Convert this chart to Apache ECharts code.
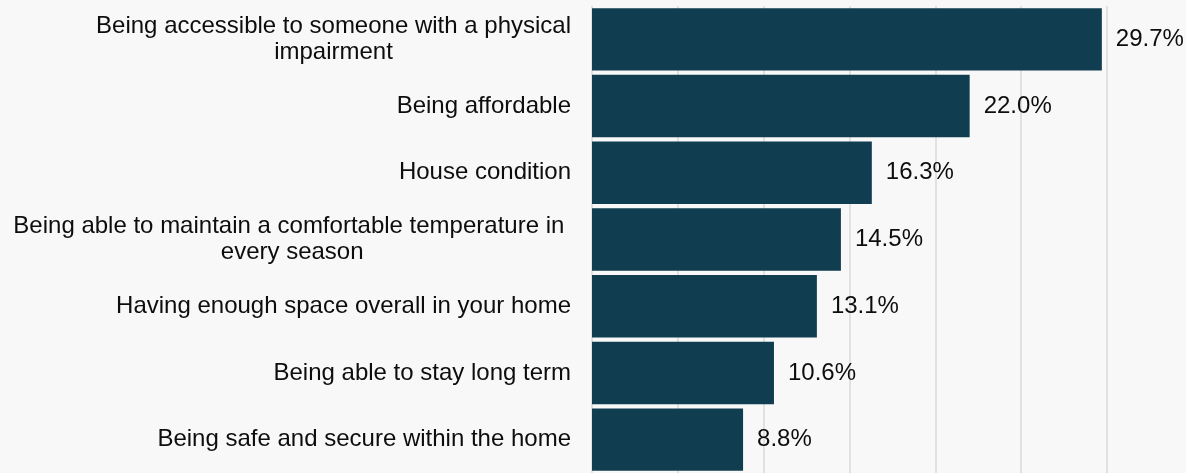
<!DOCTYPE html>
<html>
<head>
<meta charset="utf-8">
<script src="https://cdn.jsdelivr.net/npm/echarts@6/dist/echarts.min.js"></script>
<style>
  html, body { margin: 0; padding: 0; background: #f8f8f8; }
  #chart { width: 1186px; height: 473px; }
</style>
</head>
<body>
<div id="chart"></div>
<script>
// Housing features rated as most important (share of respondents, %)
const categories = [
  'Being accessible to someone with a physical\nimpairment',
  'Being affordable',
  'House condition',
  'Being able to maintain a comfortable temperature in \nevery season',
  'Having enough space overall in your home',
  'Being able to stay long term',
  'Being safe and secure within the home'
];
const shares = [29.7, 22.0, 16.3, 14.5, 13.1, 10.6, 8.8];

const FONT = 'Liberation Sans, Arial, sans-serif';
const chart = echarts.init(document.getElementById('chart'), null, { renderer: 'canvas' });

chart.setOption({
  backgroundColor: '#f8f8f8',
  animation: false,
  grid: { left: 592, right: 79, top: 6, bottom: -4, containLabel: false },
  xAxis: {
    type: 'value',
    min: 0,
    max: 30,
    interval: 5,
    axisLabel: { show: false },
    axisLine: { show: false },
    axisTick: { show: false },
    splitLine: { show: true, lineStyle: { color: '#dadada', width: 1.5 } }
  },
  yAxis: {
    type: 'category',
    inverse: true,
    data: categories,
    axisLine: { show: false },
    axisTick: { show: false },
    axisLabel: {
      margin: 21,
      color: '#0d0d0d',
      fontFamily: FONT,
      fontSize: 24,
      lineHeight: 26,
      align: 'right',
      // each wrapped line is centred within its label block
      formatter: function (value) {
        return value.split('\n').map(function (line) { return '{c|' + line + '}'; }).join('\n');
      },
      rich: {
        c: {
          align: 'center',
          color: '#0d0d0d',
          fontFamily: FONT,
          fontSize: 24,
          lineHeight: 26
        }
      }
    }
  },
  series: [{
    type: 'bar',
    data: shares,
    barCategoryGap: '6.4%',
    itemStyle: { color: '#113d51' },
    label: {
      show: true,
      position: 'right',
      distance: 14,
      color: '#0d0d0d',
      fontFamily: FONT,
      fontSize: 24,
      formatter: function (p) { return p.value.toFixed(1) + '%'; }
    }
  }]
});
</script>
</body>
</html>
